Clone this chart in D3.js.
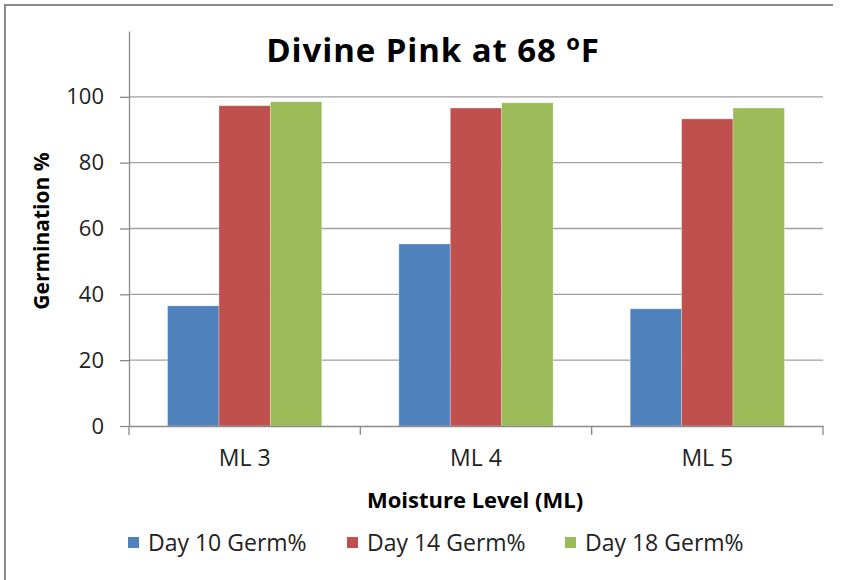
<!DOCTYPE html>
<html>
<head>
<meta charset="utf-8">
<script src="https://cdn.jsdelivr.net/npm/d3@7"></script>
<style>
  body { margin: 0; background: #fff; }
  svg { display: block; font-family: "Open Sans", "Noto Sans", sans-serif; }
</style>
</head>
<body>
<div id="chart"></div>
<script>
const categories = ["ML 3", "ML 4", "ML 5"];
const seriesNames = ["Day 10 Germ%", "Day 14 Germ%", "Day 18 Germ%"];
const day10 = [36.5, 55.3, 35.6];
const day14 = [97.3, 96.6, 93.3];
const day18 = [98.5, 98.2, 96.6];
const yTicks = [0, 20, 40, 60, 80, 100];
const colors = ["#4F81BD", "#C0504D", "#9BBB59"];

const width = 844, height = 580;
const svg = d3.select("#chart").append("svg")
  .attr("width", width).attr("height", height);

// outer chart frame (only top and left edges visible)
svg.append("path")
  .attr("d", "M5,580 V5 H833")
  .attr("fill", "none")
  .attr("stroke", "#8a8a8a")
  .attr("stroke-width", 2);

const plotLeft = 129, plotRight = 823, plotTop = 31, plotBottom = 426;

const x = d3.scaleBand().domain(categories).range([plotLeft, plotRight]);
const y = d3.scaleLinear().domain([0, 120]).range([plotBottom, plotTop]);

// gridlines
svg.append("g")
  .selectAll("line")
  .data(yTicks.filter(d => d > 0))
  .join("line")
  .attr("x1", plotLeft).attr("x2", plotRight)
  .attr("y1", d => y(d)).attr("y2", d => y(d))
  .attr("stroke", "#a0a0a0")
  .attr("stroke-width", 1.3);

// bars
const barW = x.bandwidth() / 4.5;
const series = [day10, day14, day18];
series.forEach((vals, s) => {
  svg.append("g")
    .selectAll("rect")
    .data(vals)
    .join("rect")
    .attr("x", (d, i) => x(categories[i]) + barW * 0.75 + s * barW)
    .attr("y", d => y(d))
    .attr("width", barW)
    .attr("height", d => y(0) - y(d))
    .attr("fill", colors[s])
    .attr("stroke", "rgba(255,255,255,0.35)")
    .attr("stroke-width", 0.8);
});

// y axis
const yAxis = svg.append("g")
  .attr("transform", `translate(${plotLeft},0)`)
  .call(d3.axisLeft(y).tickValues(yTicks).tickSize(9).tickPadding(16).tickSizeOuter(0));
yAxis.select("path.domain").attr("stroke", "#8a8a8a").attr("stroke-width", 1.3);
yAxis.selectAll("line").attr("stroke", "#8a8a8a").attr("stroke-width", 1.3);
yAxis.selectAll("text")
  .attr("fill", "#222")
  .attr("font-size", "22px")
  .attr("font-family", "Open Sans, sans-serif");

// x axis
const xAxis = svg.append("g")
  .attr("transform", `translate(0,${plotBottom})`)
  .call(d3.axisBottom(x).tickSize(0).tickPadding(24));
xAxis.select("path.domain").attr("stroke", "#8a8a8a").attr("stroke-width", 1.3);
xAxis.selectAll("text")
  .attr("fill", "#222")
  .attr("font-size", "23px")
  .attr("font-family", "Open Sans, sans-serif");

// category boundary ticks
svg.append("g")
  .selectAll("line")
  .data([plotLeft, ...categories.map(c => x(c) + x.bandwidth())])
  .join("line")
  .attr("x1", d => d).attr("x2", d => d)
  .attr("y1", plotBottom).attr("y2", plotBottom + 9)
  .attr("stroke", "#8a8a8a")
  .attr("stroke-width", 1.3);

// title
const title = svg.append("text")
  .attr("x", 433)
  .attr("y", 62)
  .attr("text-anchor", "middle")
  .attr("font-size", "33px")
  .attr("font-weight", "bold")
  .attr("letter-spacing", "0.9px")
  .attr("fill", "#000");
title.append("tspan").text("Divine Pink at 68 ");
title.append("tspan").attr("font-size", "22px").attr("dy", -12).text("o");
title.append("tspan").attr("dy", 12).text("F");

// y axis title
svg.append("text")
  .attr("transform", "rotate(-90)")
  .attr("x", -231)
  .attr("y", 49)
  .attr("text-anchor", "middle")
  .attr("font-size", "21px")
  .attr("font-weight", "bold")
  .attr("fill", "#000")
  .text("Germination %");

// x axis title
svg.append("text")
  .attr("x", 475)
  .attr("y", 508)
  .attr("text-anchor", "middle")
  .attr("font-size", "22px")
  .attr("font-weight", "bold")
  .attr("fill", "#000")
  .text("Moisture Level (ML)");

// legend
const legendX = [128, 347, 565];
const legend = svg.append("g")
  .selectAll("g")
  .data(seriesNames)
  .join("g")
  .attr("transform", (d, i) => `translate(${legendX[i]},537)`);
legend.append("rect")
  .attr("width", 11).attr("height", 11)
  .attr("fill", (d, i) => colors[i]);
legend.append("text")
  .attr("x", 20)
  .attr("y", 14)
  .attr("font-size", "23px")
  .attr("fill", "#222")
  .text(d => d);
</script>
</body>
</html>
